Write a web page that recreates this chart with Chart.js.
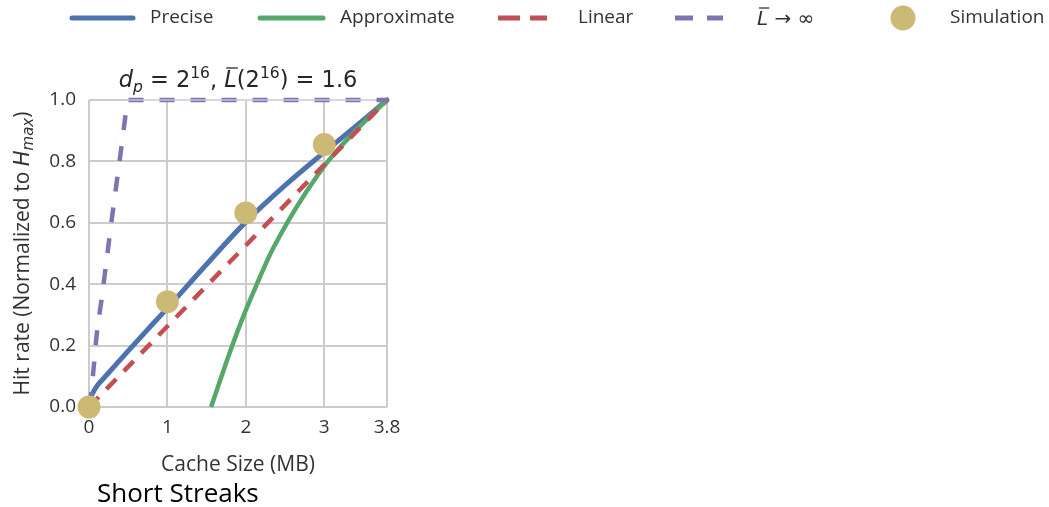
<!DOCTYPE html>
<html>
<head>
<meta charset="utf-8">
<script src="https://cdn.jsdelivr.net/npm/chart.js@4/dist/chart.umd.min.js"></script>
<style>
  html, body { margin: 0; padding: 0; background: #ffffff; }
  #wrap { position: relative; width: 1049px; height: 507px; }
</style>
</head>
<body>
<div id="wrap"><canvas id="c" width="1049" height="507"></canvas></div>
<script>
// Hit-rate curves versus cache size (MB), hit rate normalized to H_max
const xTicks = [0, 1, 2, 3, 3.8];
const yTicks = [0, 0.2, 0.4, 0.6, 0.8, 1.0];

const preciseX = [0, 0.01, 0.03, 0.06, 0.1, 0.2, 0.3, 0.5, 0.75, 1, 1.5, 2, 2.5, 3, 3.5, 3.8];
const preciseY = [0, 0.018, 0.035, 0.051, 0.068, 0.097, 0.126, 0.183, 0.253, 0.322, 0.465, 0.603, 0.722, 0.83, 0.935, 1.0];

const approxX = [1.557, 1.69, 1.827, 1.975, 2.14, 2.315, 2.527, 2.77, 3.047, 3.4, 3.8];
const approxY = [0, 0.1, 0.2, 0.3, 0.4, 0.5, 0.6, 0.7, 0.8, 0.9, 1.0];

const linearX = [0, 3.8];
const linearY = [0, 1.0];

const limitX = [0, 0.03, 0.06, 0.1, 0.16, 0.21, 0.26, 0.31, 0.36, 0.41, 0.45, 0.5, 3.8];
const limitY = [0, 0.05, 0.13, 0.24, 0.35, 0.45, 0.55, 0.65, 0.745, 0.84, 0.92, 1.0, 1.0];

const simX = [0, 1, 2, 3];
const simY = [0, 0.343, 0.632, 0.855];

const COLORS = {
  precise: '#4c72b0',
  approx: '#55a868',
  linear: '#c44e52',
  limit: '#8172b2',
  sim: '#ccb974'
};

const zip = (xs, ys) => xs.map((x, i) => ({ x: x, y: ys[i] }));

const UI = '"Open Sans", Lato, sans-serif';
const MATH = '"DejaVu Sans", sans-serif';
const TEXT = '#333333';

// draw a run of text pieces (sub/superscripts, overlines) as one line
function drawRich(ctx, parts, x, y, align) {
  let total = 0;
  parts.forEach(p => { ctx.font = p.font; p.w = ctx.measureText(p.t).width; total += p.w; });
  let cx = align === 'center' ? x - total / 2 : (align === 'right' ? x - total : x);
  ctx.textBaseline = 'alphabetic';
  ctx.textAlign = 'left';
  parts.forEach(p => {
    ctx.font = p.font;
    ctx.fillText(p.t, cx, y + (p.dy || 0));
    if (p.over) {
      ctx.save();
      ctx.strokeStyle = ctx.fillStyle;
      ctx.lineWidth = 1.3;
      ctx.beginPath();
      ctx.moveTo(cx + 2, y - p.over);
      ctx.lineTo(cx + p.w + 1, y - p.over);
      ctx.stroke();
      ctx.restore();
    }
    cx += p.w;
  });
}

const decorPlugin = {
  id: 'decor',
  afterDatasetsDraw(chart) {
    // pale stripe along the top grid line, over the saturated plateau
    const { ctx, scales } = chart;
    const y = scales.y.getPixelForValue(1.0);
    ctx.save();
    ctx.strokeStyle = 'rgba(225,222,236,0.75)';
    ctx.lineWidth = 1.5;
    ctx.beginPath();
    ctx.moveTo(scales.x.getPixelForValue(0.5), y);
    ctx.lineTo(scales.x.getPixelForValue(3.65), y);
    ctx.stroke();
    ctx.restore();
  },
  afterDraw(chart) {
    const { ctx, chartArea } = chart;
    ctx.save();

    // legend row
    const ly = 18;
    ctx.lineWidth = 5;
    const seg = (x0, x1, color, dash) => {
      ctx.strokeStyle = color;
      ctx.setLineDash(dash || []);
      ctx.beginPath();
      ctx.moveTo(x0, ly);
      ctx.lineTo(x1, ly);
      ctx.stroke();
    };
    ctx.lineCap = 'round';
    seg(72, 133, COLORS.precise);
    seg(260, 323, COLORS.approx);
    ctx.lineCap = 'butt';
    seg(498, 547, COLORS.linear, [22, 10]);
    seg(675, 723, COLORS.limit, [18, 14]);
    ctx.setLineDash([]);
    ctx.fillStyle = COLORS.sim;
    ctx.beginPath();
    ctx.arc(903, ly, 12.5, 0, Math.PI * 2);
    ctx.fill();

    ctx.fillStyle = TEXT;
    ctx.font = '19px ' + UI;
    ctx.textAlign = 'left';
    ctx.textBaseline = 'middle';
    ctx.fillText('Precise', 150, ly);
    ctx.fillText('Approximate', 340, ly);
    ctx.fillText('Linear', 578, ly);
    ctx.fillText('Simulation', 950, ly);
    drawRich(ctx, [
      { t: 'L', font: 'italic 20px ' + MATH, over: 17 },
      { t: ' \u2192 \u221E', font: '20px ' + MATH }
    ], 757, ly + 7, 'left');

    // panel title
    const cxMid = (chartArea.left + chartArea.right) / 2;
    ctx.fillStyle = '#262626';
    drawRich(ctx, [
      { t: 'd', font: 'italic 22.5px ' + MATH },
      { t: 'p', font: 'italic 15.5px ' + MATH, dy: 5 },
      { t: ' = 2', font: '22.5px ' + MATH },
      { t: '16', font: '15.5px ' + MATH, dy: -9 },
      { t: ', ', font: '22.5px ' + MATH },
      { t: 'L', font: 'italic 22.5px ' + MATH, over: 19 },
      { t: '(2', font: '22.5px ' + MATH },
      { t: '16', font: '15.5px ' + MATH, dy: -9 },
      { t: ') = 1.6', font: '22.5px ' + MATH }
    ], cxMid, 87, 'center');

    // axis titles
    ctx.fillStyle = TEXT;
    ctx.font = '21px ' + UI;
    ctx.textAlign = 'center';
    ctx.textBaseline = 'middle';
    ctx.fillText('Cache Size (MB)', cxMid, 465);

    ctx.save();
    ctx.translate(22, (chartArea.top + chartArea.bottom) / 2);
    ctx.rotate(-Math.PI / 2);
    drawRich(ctx, [
      { t: 'Hit rate (Normalized to ', font: '21px ' + UI },
      { t: 'H', font: 'italic 21px ' + MATH },
      { t: 'max', font: 'italic 15px ' + MATH, dy: 4 },
      { t: ')', font: '21px ' + UI }
    ], 0, 7, 'center');
    ctx.restore();

    // caption under the panel
    ctx.fillStyle = '#000000';
    ctx.font = '26px ' + UI;
    ctx.textAlign = 'left';
    ctx.textBaseline = 'middle';
    ctx.fillText('Short Streaks', 97, 495);

    ctx.restore();
  }
};

const lineBase = {
  type: 'line',
  pointRadius: 0,
  pointHoverRadius: 0,
  fill: false,
  cubicInterpolationMode: 'monotone',
  clip: false,
  borderCapStyle: 'butt'
};

new Chart(document.getElementById('c'), {
  data: {
    datasets: [
      Object.assign({}, lineBase, {
        label: 'Precise', data: zip(preciseX, preciseY),
        borderColor: COLORS.precise, borderWidth: 5, order: 4, borderCapStyle: 'round'
      }),
      Object.assign({}, lineBase, {
        label: 'Approximate', data: zip(approxX, approxY),
        borderColor: COLORS.approx, borderWidth: 4.5, order: 3
      }),
      Object.assign({}, lineBase, {
        label: 'Linear', data: zip(linearX, linearY),
        borderColor: COLORS.linear, borderWidth: 4.5, borderDash: [14, 11], order: 2
      }),
      Object.assign({}, lineBase, {
        label: 'L\u0304 \u2192 \u221E', data: zip(limitX, limitY),
        borderColor: COLORS.limit, borderWidth: 4.5, borderDash: [15, 16], order: 1
      }),
      {
        type: 'scatter', label: 'Simulation', data: zip(simX, simY),
        backgroundColor: COLORS.sim, borderWidth: 0, pointRadius: 11.5,
        pointHoverRadius: 11.5, clip: false, order: 0
      }
    ]
  },
  options: {
    responsive: false,
    animation: false,
    events: [],
    layout: { padding: { top: 100, right: 662, left: 0, bottom: 0 } },
    plugins: { legend: { display: false }, title: { display: false }, tooltip: { enabled: false } },
    scales: {
      x: {
        type: 'linear', min: 0, max: 3.8,
        afterBuildTicks: s => { s.ticks = xTicks.map(v => ({ value: v })); },
        afterFit: s => { s.height = 100; },
        ticks: {
          color: TEXT, font: { family: UI, size: 19 }, padding: 9,
          maxRotation: 0, autoSkip: false,
          callback: v => String(v)
        },
        grid: { color: '#cccccc', lineWidth: 2, drawTicks: false },
        border: { display: false }
      },
      y: {
        type: 'linear', min: 0, max: 1,
        afterBuildTicks: s => { s.ticks = yTicks.map(v => ({ value: v })); },
        afterFit: s => { s.width = 89; },
        ticks: {
          color: TEXT, font: { family: UI, size: 19 }, padding: 13,
          callback: v => Number(v).toFixed(1)
        },
        grid: { color: '#cccccc', lineWidth: 2, drawTicks: false },
        border: { display: false }
      }
    }
  },
  plugins: [decorPlugin]
});
</script>
</body>
</html>
